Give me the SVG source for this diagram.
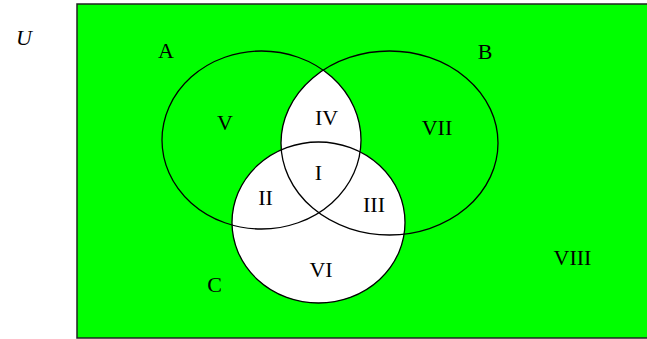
<svg xmlns="http://www.w3.org/2000/svg" width="647" height="339" viewBox="0 0 647 339">
<style>
.set{fill:none;stroke:#000;stroke-width:1.3}
.lbl{font-family:"Liberation Serif","Times New Roman",serif;font-size:22px;fill:#000;text-anchor:middle}
</style>
<defs>
<clipPath id="clipB"><ellipse cx="389.5" cy="143" rx="108.5" ry="92"/></clipPath>
</defs>
<rect width="647" height="339" fill="#fff"/>
<g id="universe">
<rect x="77" y="4" width="580" height="334" fill="#00ff00" stroke="#222" stroke-width="1.5"/>
<text class="lbl" x="24" y="45" font-style="italic">U</text>
</g>
<g id="shaded">
<ellipse cx="318.5" cy="222.5" rx="86.5" ry="80.5" fill="#fff"/>
<ellipse cx="261.5" cy="140" rx="99.5" ry="89" fill="#fff" clip-path="url(#clipB)"/>
</g>
<g id="set-A">
<ellipse class="set" cx="261.5" cy="140" rx="99.5" ry="89"/>
<text class="lbl" x="166" y="58">A</text>
</g>
<g id="set-B">
<ellipse class="set" cx="389.5" cy="143" rx="108.5" ry="92"/>
<text class="lbl" x="485" y="59">B</text>
</g>
<g id="set-C">
<ellipse class="set" cx="318.5" cy="222.5" rx="86.5" ry="80.5"/>
<text class="lbl" x="214.5" y="292">C</text>
</g>
<g id="regions">
<text class="lbl" x="225" y="130">V</text>
<text class="lbl" x="326.5" y="125">IV</text>
<text class="lbl" x="437" y="135">VII</text>
<text class="lbl" x="318.5" y="180">I</text>
<text class="lbl" x="265.5" y="205">II</text>
<text class="lbl" x="374" y="212">III</text>
<text class="lbl" x="321" y="277">VI</text>
<text class="lbl" x="572.5" y="265">VIII</text>
</g>
</svg>
